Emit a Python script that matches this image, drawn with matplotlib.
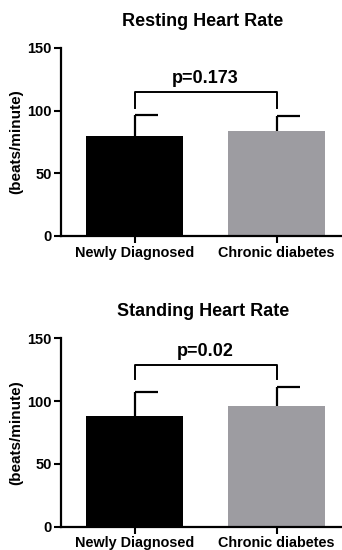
import numpy as np
import matplotlib
matplotlib.use("Agg")
import matplotlib.pyplot as plt

plt.rcParams["font.family"] = ["Liberation Sans", "DejaVu Sans"]
plt.rcParams["font.weight"] = "bold"

# Data
groups = ["Newly Diagnosed", "Chronic diabetes"]
colors = ["#000000", "#9d9ca1"]

resting_mean = [80, 84]
resting_err = [16.5, 12]
resting_p = "p=0.173"

standing_mean = [88.5, 96]
standing_err = [18.5, 15.5]
standing_p = "p=0.02"

titles = ["Resting Heart Rate", "Standing Heart Rate"]
bracket_top = [114.5, 129]
bracket_leg = [102, 117.5]


def draw_panel(ax, means, errs, ptext, title, btop, bleg):
    x = np.arange(len(means))
    ax.bar(x, means, width=0.68, color=colors, zorder=2)
    # one-sided error bars with half caps (GraphPad style)
    for xi, m, e in zip(x, means, errs):
        ax.plot([xi, xi], [m, m + e], color="black", lw=1.6, zorder=1,
                solid_capstyle="butt")
        ax.plot([xi, xi + 0.165], [m + e, m + e], color="black", lw=1.6,
                zorder=1, solid_capstyle="butt")
    # significance bracket
    ax.plot([x[0], x[0], x[1], x[1]], [bleg, btop, btop, bleg],
            color="black", lw=1.4, clip_on=False)
    ax.text((x[0] + x[1]) / 2, btop + 4, ptext, ha="center", va="bottom",
            fontsize=13, fontweight="bold")

    ax.set_xlim(-0.52, 1.48)
    ax.set_ylim(0, 150)
    ax.set_yticks([0, 50, 100, 150])
    ax.set_xticks(x)
    ax.set_xticklabels(groups, fontsize=10.4, fontweight="bold")
    ax.tick_params(axis="y", labelsize=10.5, width=1.5, length=5, pad=1.5)
    ax.tick_params(axis="x", width=1.5, length=5, pad=2)
    for lab in ax.get_yticklabels():
        lab.set_fontweight("bold")
    ax.set_ylabel("(beats/minute)", fontsize=11, fontweight="bold", labelpad=3)
    ax.set_title(title, fontsize=13, fontweight="bold", pad=16)
    for s in ["top", "right"]:
        ax.spines[s].set_visible(False)
    ax.spines["left"].set_linewidth(1.6)
    ax.spines["bottom"].set_linewidth(1.6)


fig = plt.figure(figsize=(3.42, 5.5), dpi=100)
ax1 = fig.add_axes([0.178, 0.571, 0.83, 0.342])
ax2 = fig.add_axes([0.178, 0.0424, 0.83, 0.3426])

draw_panel(ax1, resting_mean, resting_err, resting_p, titles[0],
           bracket_top[0], bracket_leg[0])
draw_panel(ax2, standing_mean, standing_err, standing_p, titles[1],
           bracket_top[1], bracket_leg[1])

fig.savefig("out.png", dpi=100)
